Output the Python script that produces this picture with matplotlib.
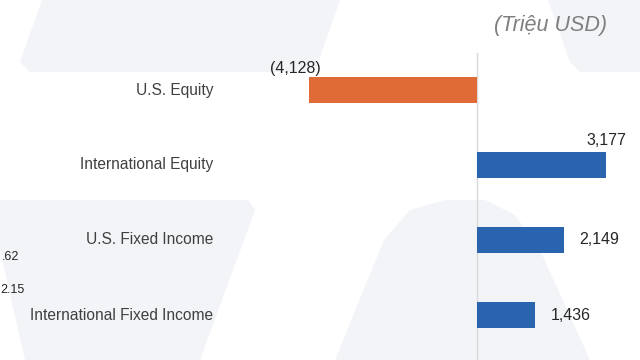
import matplotlib.pyplot as plt
from matplotlib.patches import Polygon
from matplotlib.transforms import blended_transform_factory

# Data
categories = ['U.S. Equity', 'International Equity', 'U.S. Fixed Income', 'International Fixed Income']
values = [-4128, 3177, 2149, 1436]
value_labels = ['(4,128)', '3,177', '2,149', '1,436']
stray_labels = ['.62', '2.15']

plt.rcParams['font.family'] = ['Liberation Sans', 'DejaVu Sans']

fig = plt.figure(figsize=(6.4, 3.6), dpi=100)

# faint background shapes (slide watermark), pixel coords from top-left
bg = '#f2f4f8'
shapes = [
    [(42, 0), (340, 0), (317, 66), (305, 72), (30, 72), (20, 62)],
    [(548, 0), (640, 0), (640, 72), (580, 72), (570, 62)],
    [(0, 200), (248, 200), (255, 210), (200, 360), (25, 360), (0, 250)],
    [(335, 360), (384, 240), (410, 210), (445, 200), (485, 200), (515, 215), (540, 250), (590, 360)],
]
for pts in shapes:
    fig.add_artist(Polygon([(x / 640, 1 - y / 360) for x, y in pts], closed=True,
                           transform=fig.transFigure, facecolor=bg, edgecolor='none', zorder=0))

ax = fig.add_axes([0, 0, 1, 1])
ax.patch.set_alpha(0)

colors = ['#e06b37' if v < 0 else '#2a63ae' for v in values]
y = list(range(len(categories)))
ax.barh(y, values, height=0.35, color=colors, zorder=2)

units_per_px = 24.6
ax.set_xlim(-477 * units_per_px, (640 - 477) * units_per_px)
ax.set_ylim(3.6, -1.2)
ax.axis('off')
ax.axvline(0, ymin=0, ymax=(360 - 53) / 360, color='#d9d9d9', lw=1, zorder=1)

tr = blended_transform_factory(ax.transAxes, ax.transData)
for i, cat in enumerate(categories):
    ax.text(213 / 640, i, cat, transform=tr, ha='right', va='center',
            fontsize=11.2, color='#404040')

# value labels
ax.text(values[0] - 14 * units_per_px, 0 - 0.19, value_labels[0], ha='center', va='bottom',
        fontsize=11.5, color='#262626')
ax.text(values[1] + 20 * units_per_px, 1 - 0.23, value_labels[1], ha='right', va='bottom',
        fontsize=11.5, color='#262626')
for i in (2, 3):
    ax.text(values[i] + 15 * units_per_px, i, value_labels[i], ha='left', va='center',
            fontsize=11.5, color='#262626')

fig.text(607 / 640, 1 - 25 / 360, '(Triệu USD)', ha='right', va='center',
         fontsize=15.5, style='italic', color='#7f7f7f')
fig.text(2 / 640, 1 - 257 / 360, stray_labels[0], ha='left', va='center', fontsize=9, color='#262626')
fig.text(0, 1 - 290 / 360, stray_labels[1], ha='left', va='center', fontsize=9, color='#262626')

fig.savefig('out.png', dpi=100)
